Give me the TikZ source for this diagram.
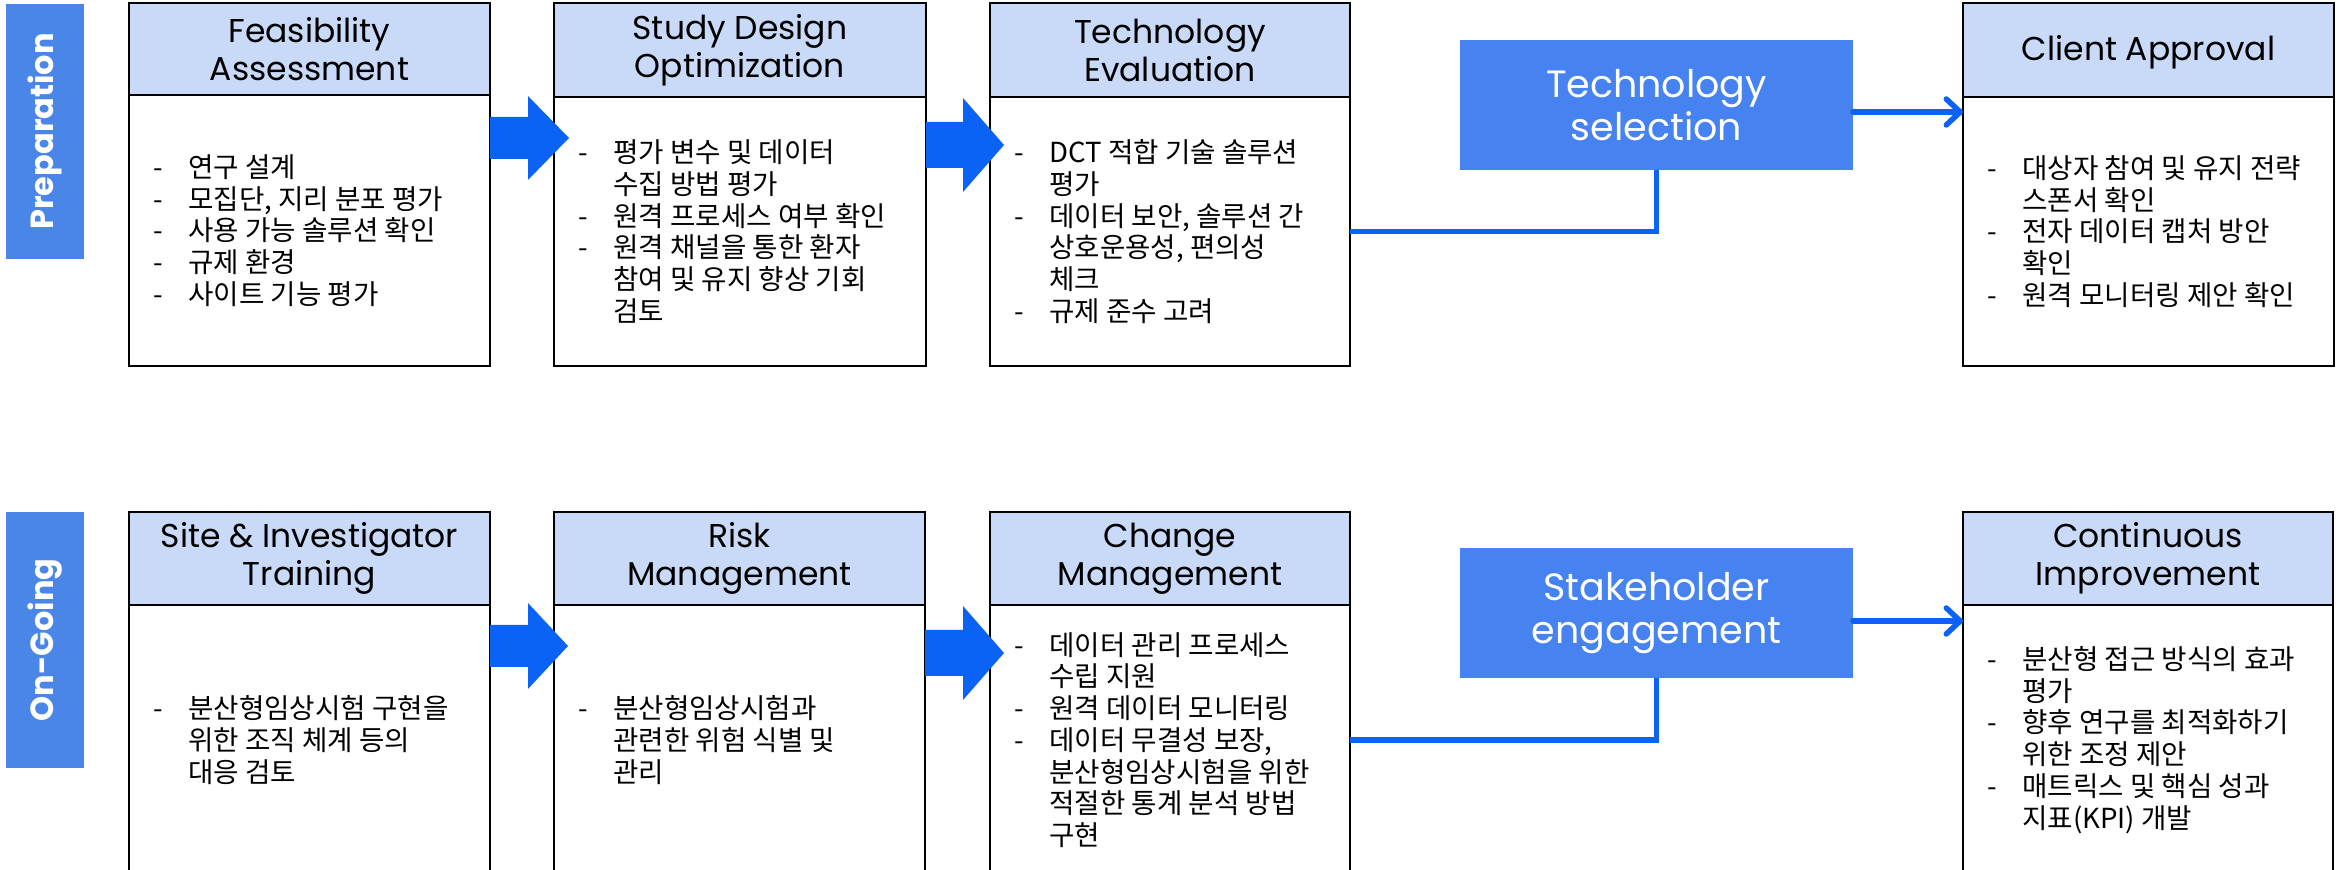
\documentclass[tikz,border=0pt]{standalone}
\usepackage{fontspec}
\setmainfont{Poppins}
\newfontfamily\kr{Noto Sans CJK KR}
\usetikzlibrary{fit,arrows.meta}
\definecolor{hdrblue}{HTML}{C9DAF8}
\definecolor{lblblue}{HTML}{4A86E8}
\definecolor{selblue}{HTML}{4682F0}
\definecolor{arrblue}{HTML}{0B63F6}
\newcommand{\dl}[1]{\makebox[17.5pt][l]{-}#1}
\newcommand{\cl}[1]{\hspace*{17.5pt}#1}
\tikzset{
  x=0.5pt, y=-0.5pt,
  hdr/.style={draw=black, line width=1.2pt, fill=hdrblue, inner sep=0pt, outer sep=0pt},
  hdrtext/.style={inner sep=0pt, align=center, font=\fontsize{16.5}{19}\selectfont},
  bodybox/.style={draw=black, line width=1.2pt, fill=white, inner sep=0pt, outer sep=0pt},
  lblbox/.style={fill=lblblue, inner sep=0pt, outer sep=0pt},
  lbltext/.style={text=white, font=\fontsize{16}{19}\selectfont\bfseries, rotate=90, inner sep=0pt},
  selbox/.style={fill=selblue, inner sep=0pt, outer sep=0pt},
  seltext/.style={inner sep=0pt, text=white, align=center, font=\fontsize{19}{21.5}\selectfont},
  listtext/.style={anchor=west, inner sep=0pt, align=left, xshift=12pt,
    font=\kr\fontsize{13.8}{15.85}\selectfont},
  barrow/.style={fill=arrblue},
  conn/.style={draw=arrblue, line width=2.75pt},
  connarrow/.style={conn, line cap=round, -{Straight Barb[length=7pt,width=13pt,round]}},
}
\begin{document}
\begin{tikzpicture}
\useasboundingbox (0,0) rectangle (2351,870);
\clip (0,0) rectangle (2351,870);

% ---------- Row 1: Preparation ----------
\node[lblbox, fit={(6,4)(84,259)}] (p1) {};
\node[lbltext] (p1t) at (p1.center) {Preparation};

\node[bodybox, fit={(129,95)(490,366)}] (b1) {};
\node[hdr, fit={(129,3)(490,95)}] (h1) {};
\node[hdrtext] (h1t) at (h1.center) {Feasibility\\Assessment};
\node[listtext] (t1) at (b1.west) {\dl{연구 설계}\\\dl{모집단, 지리 분포 평가}\\\dl{사용 가능 솔루션 확인}\\\dl{규제 환경}\\\dl{사이트 기능 평가}};

\node[bodybox, fit={(554,97)(926,366)}] (b2) {};
\node[hdr, fit={(554,3)(926,97)}] (h2) {};
\node[hdrtext] (h2t) at (h2.center) {Study Design\\Optimization};
\node[listtext] (t2) at (b2.west) {\dl{평가 변수 및 데이터}\\\cl{수집 방법 평가}\\\dl{원격 프로세스 여부 확인}\\\dl{원격 채널을 통한 환자}\\\cl{참여 및 유지 향상 기회}\\\cl{검토}};

\node[bodybox, fit={(990,97)(1350,366)}] (b3) {};
\node[hdr, fit={(990,3)(1350,97)}] (h3) {};
\node[hdrtext] (h3t) at (h3.center) {Technology\\Evaluation};
\node[listtext] (t3) at (b3.west) {\dl{DCT 적합 기술 솔루션}\\\cl{평가}\\\dl{데이터 보안, 솔루션 간}\\\cl{상호운용성, 편의성}\\\cl{체크}\\\dl{규제 준수 고려}};

\node[selbox, fit={(1460,40)(1853,170)}] (s1) {};
\node[seltext] (s1t) at (s1.center) {Technology\\selection};

\node[bodybox, fit={(1963,97)(2334,366)}] (b7a) {};
\node[hdr, fit={(1963,3)(2334,97)}] (h7a) {};
\node[hdrtext] (h7at) at ([yshift=-1pt]h7a.center) {Client Approval};
\node[listtext] (t7a) at (b7a.west) {\dl{대상자 참여 및 유지 전략}\\\cl{스폰서 확인}\\\dl{전자 데이터 캡처 방안}\\\cl{확인}\\\dl{원격 모니터링 제안 확인}};

\fill[barrow] (b1.north east) ++(0,22) -- ++(38,0) -- ++(0,-21) -- ++(41,42) -- ++(-41,42) -- ++(0,-21) -- ++(-38,0) -- cycle;
\fill[barrow] (b2.north east) ++(0,25) -- ++(37,0) -- ++(0,-24) -- ++(41,47) -- ++(-41,47) -- ++(0,-24) -- ++(-37,0) -- cycle;

\draw[conn] (b3.east) -| (s1.south);
\coordinate (s1o) at ([yshift=-3.5pt]s1.east);
\draw[connarrow] (s1o) -- (s1o -| b7a.west);

% ---------- Row 2: On-Going ----------
\node[lblbox, fit={(6,512)(84,768)}] (p2) {};
\node[lbltext] (p2t) at (p2.center) {On-Going};

\node[bodybox, fit={(129,605)(490,875)}] (b4) {};
\node[hdr, fit={(129,512)(490,605)}] (h4) {};
\node[hdrtext] (h4t) at (h4.center) {Site \& Investigator\\Training};
\node[listtext] (t4) at (b4.west) {\dl{분산형임상시험 구현을}\\\cl{위한 조직 체계 등의}\\\cl{대응 검토}};

\node[bodybox, fit={(554,605)(925,875)}] (b5) {};
\node[hdr, fit={(554,512)(925,605)}] (h5) {};
\node[hdrtext] (h5t) at (h5.center) {Risk\\Management};
\node[listtext] (t5) at (b5.west) {\dl{분산형임상시험과}\\\cl{관련한 위험 식별 및}\\\cl{관리}};

\node[bodybox, fit={(990,605)(1350,875)}] (b6) {};
\node[hdr, fit={(990,512)(1350,605)}] (h6) {};
\node[hdrtext] (h6t) at (h6.center) {Change\\Management};
\node[listtext] (t6) at (b6.west) {\dl{데이터 관리 프로세스}\\\cl{수립 지원}\\\dl{원격 데이터 모니터링}\\\dl{데이터 무결성 보장,}\\\cl{분산형임상시험을 위한}\\\cl{적절한 통계 분석 방법}\\\cl{구현}};

\node[selbox, fit={(1460,548)(1853,678)}] (s2) {};
\node[seltext] (s2t) at (s2.center) {Stakeholder\\engagement};

\node[bodybox, fit={(1963,605)(2333,875)}] (b7b) {};
\node[hdr, fit={(1963,512)(2333,605)}] (h7b) {};
\node[hdrtext] (h7bt) at (h7b.center) {Continuous\\Improvement};
\node[listtext] (t7b) at (b7b.west) {\dl{분산형 접근 방식의 효과}\\\cl{평가}\\\dl{향후 연구를 최적화하기}\\\cl{위한 조정 제안}\\\dl{매트릭스 및 핵심 성과}\\\cl{지표(KPI) 개발}};

\fill[barrow] (b4.north east) ++(0,20) -- ++(38,0) -- ++(0,-22) -- ++(40,43) -- ++(-40,43) -- ++(0,-22) -- ++(-38,0) -- cycle;
\fill[barrow] (b5.north east) ++(0,25) -- ++(38,0) -- ++(0,-24) -- ++(41,47) -- ++(-41,47) -- ++(0,-24) -- ++(-38,0) -- cycle;

\draw[conn] (b6.east) -| (s2.south);
\coordinate (s2o) at ([yshift=-4pt]s2.east);
\draw[connarrow] (s2o) -- (s2o -| b7b.west);
\end{tikzpicture}
\end{document}
